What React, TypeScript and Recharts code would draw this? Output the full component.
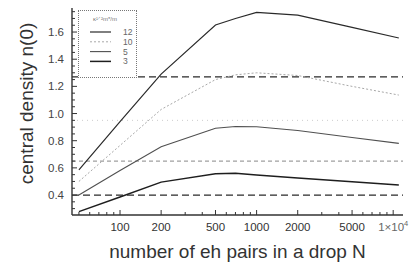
import React from 'react';
import { LineChart, Line, XAxis, YAxis, ReferenceLine, Legend, Label } from 'recharts';

// ---- data ----
const N_VALUES = [50, 100, 200, 500, 700, 1000, 2000, 5000, 11000];
const SERIES_12 = [0.585, 0.94, 1.29, 1.652, 1.70, 1.745, 1.725, 1.634, 1.556];
const SERIES_10 = [0.50, 0.765, 1.03, 1.25, 1.285, 1.30, 1.28, 1.20, 1.136];
const SERIES_5 = [0.40, 0.58, 0.755, 0.892, 0.905, 0.903, 0.875, 0.824, 0.78];
const SERIES_3 = [0.278, 0.385, 0.495, 0.556, 0.56, 0.548, 0.526, 0.498, 0.474];

const SERIES_NAMES = ['12', '10', '5', '3'];
const LEGEND_TITLE = 'κ¹ᐟ²m*/m';

const X_MAJOR = [100, 200, 500, 1000, 2000, 5000, 10000];
const X_MINOR = [50, 60, 70, 80, 90, 300, 400, 600, 700, 800, 900, 3000, 4000, 6000, 7000, 8000, 9000];
const Y_MAJOR = [0.4, 0.6, 0.8, 1.0, 1.2, 1.4, 1.6];
const Y_MINOR = [0.3, 0.35, 0.45, 0.5, 0.55, 0.65, 0.7, 0.75, 0.85, 0.9, 0.95, 1.05, 1.1, 1.15, 1.25, 1.3, 1.35, 1.45, 1.5, 1.55, 1.65, 1.7, 1.75];

const REF_BLACK = [1.27, 0.40];
const REF_GRAY = 0.65;
const REF_FAINT = 0.95;

const X_DOMAIN: [number, number] = [44.5, 11800];
const Y_DOMAIN: [number, number] = [0.253, 1.777];

const X_TITLE = 'number of eh pairs in a drop N';
const Y_TITLE = 'central density n(0)';

const data = N_VALUES.map((n, i) => ({
  n,
  s12: SERIES_12[i],
  s10: SERIES_10[i],
  s5: SERIES_5[i],
  s3: SERIES_3[i],
}));

const STYLES = [
  { key: 's12', stroke: '#2a2a2a', width: 1.2, dash: undefined as string | undefined },
  { key: 's10', stroke: '#a8a8a8', width: 1.0, dash: '2 2' },
  { key: 's5', stroke: '#505050', width: 1.1, dash: undefined },
  { key: 's3', stroke: '#1e1e1e', width: 1.5, dash: undefined },
];

const FONT = 'Liberation Sans, Arial, Helvetica, sans-serif';
const TEXT = '#333';
const FRAME = '#333';

const allX = [...X_MAJOR, ...X_MINOR].sort((a, b) => a - b);
const allY = [...Y_MAJOR, ...Y_MINOR].sort((a, b) => a - b);

const fmtX = (v: number) => {
  if (v === 10000) {
    return [
      <tspan key="a">1×10</tspan>,
      <tspan key="b" dy={-5} fontSize={7.5}>4</tspan>,
    ];
  }
  return String(v);
};

const BottomTick = (props: any) => {
  const { x, y, payload } = props;
  const v = payload.value;
  const major = X_MAJOR.includes(v);
  return (
    <g>
      <line x1={x} x2={x} y1={y} y2={y - (major ? 5 : 3)} stroke={FRAME} strokeWidth={1} />
      {major && (
        <text x={x} y={y + 16} textAnchor="middle" fontSize={11.5} fill={v === 10000 ? '#666' : TEXT} fontFamily={FONT}>
          {fmtX(v)}
        </text>
      )}
    </g>
  );
};

const TopTick = (props: any) => {
  const { x, y, payload } = props;
  const major = X_MAJOR.includes(payload.value);
  return <line x1={x} x2={x} y1={y} y2={y + (major ? 5 : 3)} stroke={FRAME} strokeWidth={1} />;
};

const LeftTick = (props: any) => {
  const { x, y, payload } = props;
  const v = payload.value;
  const major = Y_MAJOR.some((m) => Math.abs(m - v) < 1e-9);
  return (
    <g>
      <line x1={x} x2={x + (major ? 5 : 3)} y1={y} y2={y} stroke={FRAME} strokeWidth={1} />
      {major && (
        <text x={x - 8} y={y + 4} textAnchor="end" fontSize={11.5} fill="#444" fontFamily={FONT}>
          {v.toFixed(1)}
        </text>
      )}
    </g>
  );
};

const RightTick = (props: any) => {
  const { x, y, payload } = props;
  const major = Y_MAJOR.some((m) => Math.abs(m - payload.value) < 1e-9);
  return <line x1={x} x2={x - (major ? 5 : 3)} y1={y} y2={y} stroke={FRAME} strokeWidth={1} />;
};

const LegendBox = () => (
  <div
    style={{
      width: 59,
      height: 68,
      boxSizing: 'border-box',
      border: '1px dotted #777',
      background: '#fff',
      fontFamily: FONT,
    }}
  >
    <svg width={57} height={66} style={{ display: 'block' }}>
      <text x={26} y={10} textAnchor="middle" fontSize={6} fill="#777">
        {LEGEND_TITLE}
      </text>
      {SERIES_NAMES.map((name, i) => {
        const s = STYLES[i];
        const yy = 21 + i * 9.8;
        return (
          <g key={name}>
            <line x1={11} x2={32} y1={yy} y2={yy} stroke={s.stroke} strokeWidth={s.width} strokeDasharray={s.dash} />
            <text x={44} y={yy + 3} fontSize={8.5} fill="#666" textAnchor="start">
              {name}
            </text>
          </g>
        );
      })}
    </svg>
  </div>
);

export default function App() {
  return (
    <div style={{ position: 'absolute', left: 0, top: 0, width: 416, height: 272, background: '#fff' }}>
      <LineChart width={416} height={272} data={data} margin={{ top: 8, right: 13, bottom: 0, left: 0 }}>
        <XAxis
          dataKey="n"
          type="number"
          scale="log"
          domain={X_DOMAIN}
          allowDataOverflow
          ticks={allX}
          interval={0}
          height={57}
          tickSize={0}
          tickMargin={0}
          tickLine={false}
          axisLine={{ stroke: FRAME, strokeWidth: 1.4 }}
          tick={<BottomTick />}
        >
          <Label
            content={(p: any) => {
              const vb = p.viewBox;
              return (
                <text
                  x={vb.x + vb.width / 2}
                  y={vb.y + 43}
                  textAnchor="middle"
                  fontSize={19}
                  fill={TEXT}
                  fontFamily={FONT}
                >
                  {X_TITLE}
                </text>
              );
            }}
          />
        </XAxis>
        <XAxis
          xAxisId="top"
          orientation="top"
          dataKey="n"
          type="number"
          scale="log"
          domain={X_DOMAIN}
          allowDataOverflow
          ticks={allX}
          interval={0}
          height={0}
          tickSize={0}
          tickMargin={0}
          tickLine={false}
          axisLine={{ stroke: FRAME, strokeWidth: 1.4 }}
          tick={<TopTick />}
        />
        <YAxis
          type="number"
          domain={Y_DOMAIN}
          allowDataOverflow
          ticks={allY}
          interval={0}
          width={72}
          tickSize={0}
          tickMargin={0}
          tickLine={false}
          axisLine={{ stroke: FRAME, strokeWidth: 1.4 }}
          tick={<LeftTick />}
        >
          <Label
            content={(p: any) => {
              const vb = p.viewBox;
              const cx = vb.x + 33;
              const cy = vb.y + vb.height / 2 - 8;
              return (
                <text
                  x={cx}
                  y={cy}
                  transform={`rotate(-90, ${cx}, ${cy})`}
                  textAnchor="middle"
                  fontSize={19}
                  fill={TEXT}
                  fontFamily={FONT}
                >
                  {Y_TITLE}
                </text>
              );
            }}
          />
        </YAxis>
        <YAxis
          yAxisId="right"
          orientation="right"
          type="number"
          domain={Y_DOMAIN}
          allowDataOverflow
          ticks={allY}
          interval={0}
          width={0}
          tickSize={0}
          tickMargin={0}
          tickLine={false}
          axisLine={{ stroke: FRAME, strokeWidth: 1.4 }}
          tick={<RightTick />}
        />
        <ReferenceLine y={REF_FAINT} stroke="#cccccc" strokeWidth={1} strokeDasharray="1 4" />
        <ReferenceLine y={REF_GRAY} stroke="#a0a0a0" strokeWidth={1.1} strokeDasharray="4 3" />
        {REF_BLACK.map((v) => (
          <ReferenceLine key={v} y={v} stroke="#2a2a2a" strokeWidth={1.2} strokeDasharray="7 4" />
        ))}
        {STYLES.map((s) => (
          <Line
            key={s.key}
            dataKey={s.key}
            type="linear"
            stroke={s.stroke}
            strokeWidth={s.width}
            strokeDasharray={s.dash}
            dot={false}
            isAnimationActive={false}
          />
        ))}
        <Legend
          layout="vertical"
          align="center"
          verticalAlign="middle"
          wrapperStyle={{ left: 78, top: 10, width: 59, height: 68 }}
          content={() => <LegendBox />}
        />
      </LineChart>
    </div>
  );
}
